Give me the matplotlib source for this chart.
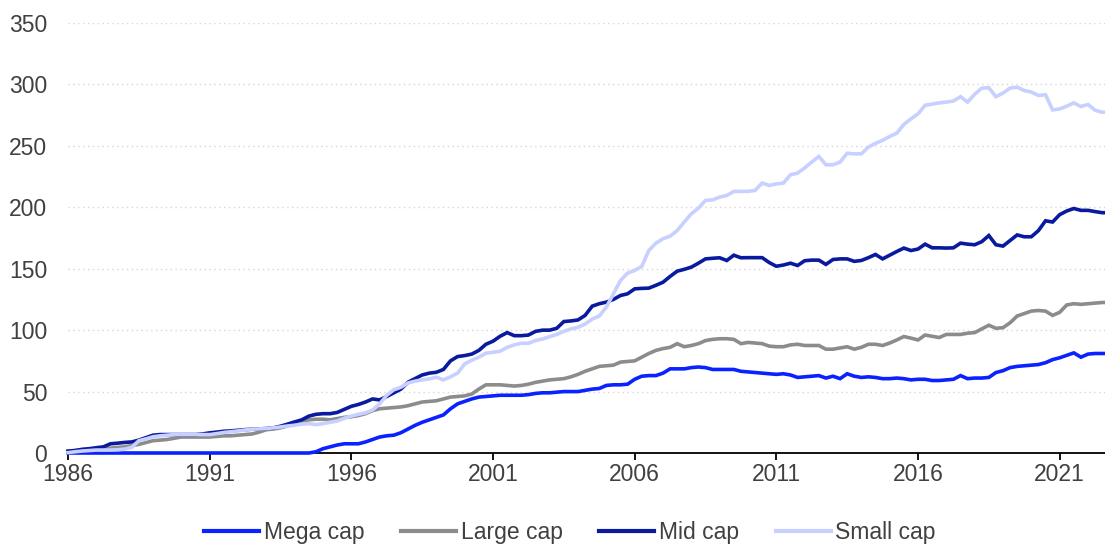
import numpy as np
import matplotlib
matplotlib.use("Agg")
import matplotlib.pyplot as plt

plt.rcParams['font.family'] = ['Liberation Sans', 'DejaVu Sans']

start_year = 1986
# quarterly values, 4 per year (1986 .. 2022)
mega_cap = [
    0, 0, 0, 0,  0, 0, 0, 0,  0, 0, 0, 0,  0, 0, 0, 0,  0, 0, 0, 0,
    0, 0, 0, 0,  0, 0, 0, 0,  0, 0, 0, 0,  0, 0, 0, 1,
    3.5, 5, 6.5, 7.5,  7.5, 7.5, 9, 11,  13, 14, 14.5, 16.5,  19.5, 22.5, 25, 27,
    29, 31, 36, 40,  42, 44, 45.5, 46,  46.5, 47, 47, 47,  47, 47.5, 48.5, 49,
    49, 49.5, 50, 50,  50, 51, 52, 52.5,  55, 55.5, 55.5, 56,  60, 62.5, 63, 63,
    65, 68.5, 68.5, 68.5,  69.5, 70, 69.5, 68,  68, 68, 68, 66.5,  66, 65.5, 65, 64.5,
    64, 64.5, 63.5, 61.5,  62, 62.5, 63, 61,  62.5, 60.5, 64.5, 62.5,  61.5, 62, 61.5, 60.5,
    60.5, 61, 60.5, 59.5,  60, 60, 59, 59,  59.5, 60, 63, 60.5,  61, 61, 61.5, 65.5,
    67, 69.5, 70.5, 71,  71.5, 72, 73.5, 76,  77.5, 79.5, 81.5, 78,  80.5, 81, 81, 81,
]
large_cap = [
    1.5, 2, 2.5, 3,  3, 3.5, 4, 4.5,  5, 6, 7, 8.5,  10, 10.5, 11, 12,  13, 13, 13, 13,
    13, 13.5, 14, 14,  14.5, 15, 15.5, 17,  19, 19.5, 20.5, 22,  24, 25.5, 27, 27.5,
    27.5, 27, 28, 29,  29.5, 30.5, 32, 34.5,  36, 36.5, 37, 37.5,  38.5, 40, 41.5, 42,
    42.5, 44, 45.5, 46,  46.5, 48, 52, 55.5,  55.5, 55.5, 55, 54.5,  55, 56, 57.5, 58.5,
    59.5, 60, 60.5, 62,  64, 66.5, 68.5, 70.5,  71, 71.5, 74, 74.5,  75, 78, 81, 83.5,
    85, 86, 89, 86.5,  87.5, 89, 91.5, 92.5,  93, 93, 92.5, 89,  90, 89.5, 89, 87,
    86.5, 86.5, 88, 88.5,  87.5, 87.5, 87.5, 84.5,  84.5, 85.5, 86.5, 84.5,  86, 88.5, 88.5, 87.5,
    89.5, 92, 94.8, 93.5,  92, 96, 95, 94,  96.5, 96.5, 96.5, 97.5,  98, 101, 104, 101.5,
    102, 106, 111.5, 113.5,  115.5, 116, 115.5, 112,  114.5, 120.5, 121.5, 121,  121.5, 122, 122.5, 122.5,
]
mid_cap = [
    1.5, 2, 3, 3.5,  4.3, 5, 7.5, 8,  8.6, 9, 10.5, 12.5,  14.5, 15, 15, 15,  15, 15, 15, 15.5,
    16.4, 17, 17.7, 18,  18.5, 19, 19.4, 19.6,  19.9, 20.5, 21.8, 23.5,  25.3, 27, 30, 31.5,
    32, 32, 33, 35.5,  38, 39.5, 41.5, 44,  43.2, 46, 49, 52,  57.6, 60.5, 63.5, 65,
    65.7, 68, 75, 78.5,  79.3, 80.5, 83.5, 88.5,  91, 95, 98, 95.5,  95.5, 96, 99, 100,
    100, 101.5, 107, 107.5,  108.3, 112, 119.5, 121.5,  122.8, 125, 128.2, 129.6,  133.6, 134, 134.2, 136.5,
    139, 143.7, 148, 149.5,  151.3, 154.5, 158, 158.5,  158.9, 156.7, 161, 158.9,  159, 159, 159, 155,
    152, 153, 154.5, 152.6,  156.5, 157, 157, 153.5,  157.5, 158, 158, 156,  156.7, 159, 161.6, 158,
    161, 164, 166.8, 164.8,  166, 170, 167, 167,  166.8, 167, 170.8, 170,  169.5, 172, 177, 169.5,
    168.4, 173, 177.5, 176,  176, 181, 189, 188,  194, 197, 199, 197.5,  197.5, 196.5, 195.6, 195.6,
]
small_cap = [
    0.3, 1, 1.6, 2,  2.4, 2.4, 2.4, 2.6,  3.2, 4.6, 10, 11.5,  13.2, 14, 14.5, 15,  15, 15, 15, 15,
    15, 15.8, 16.7, 17.3,  18, 18.7, 19.4, 19.6,  19.9, 20.5, 21.2, 22,  22.6, 23.5, 23.9, 23.1,
    23.9, 25, 26, 28.3,  30, 31.5, 32.7, 35,  40, 47, 51.5, 53.5,  57, 58.5, 59.5, 60.3,
    61.7, 59.5, 62, 65,  72.5, 75.5, 78, 81.2,  82, 82.8, 86, 88,  89.3, 89.3, 91.5, 92.8,
    94.7, 96.5, 99, 101,  102.3, 105, 109, 111.5,  118.7, 129.6, 140.4, 146.4,  148.6, 151.8, 164.9, 170.8,
    174.4, 176.5, 181, 188,  194.7, 199.3, 205.6, 206,  208.3, 209.6, 212.9, 212.9,  213, 213.7, 219.7, 217.8,
    219, 219.7, 226.5, 227.8,  232, 236.8, 241.4, 234.6,  234.6, 236.8, 244, 243.5,  243.5, 249, 252, 254.5,
    257.6, 260.3, 267.4, 272,  276, 283, 284, 285,  285.6, 286.5, 290, 285.6,  292, 297, 297.3, 290,
    293, 297, 297.8, 295,  293.8, 291, 291.6, 279.3,  280, 282.3, 285, 282,  283.7, 279, 277.4, 277.4,
]
series_names = ["Mega cap", "Large cap", "Mid cap", "Small cap"]
series_colors = ["#0A22FF", "#8C8C8C", "#0A1A9E", "#C8D0FF"]
x_ticks = [1986, 1991, 1996, 2001, 2006, 2011, 2016, 2021]
y_ticks = [0, 50, 100, 150, 200, 250, 300, 350]

n = len(mega_cap)
years = start_year + np.arange(n) * 0.25

fig = plt.figure(figsize=(11.05, 5.46), dpi=100)
ax = fig.add_axes([68 / 1105, (546 - 453) / 546, 1 - 68 / 1105, (453 - 23) / 546])

for vals, name, col in zip([mega_cap, large_cap, mid_cap, small_cap], series_names, series_colors):
    ax.plot(years, vals, color=col, lw=2.6, label=name, solid_joinstyle='miter', clip_on=False, zorder=3)

ax.set_xlim(1986, 2022.6)
ax.set_ylim(0, 350)
ax.set_xticks(x_ticks)
ax.set_xticklabels([str(t) for t in x_ticks])
ax.set_yticks(y_ticks)
ax.set_yticklabels([str(t) for t in y_ticks])

for s in ['top', 'right', 'left']:
    ax.spines[s].set_visible(False)
ax.spines['bottom'].set_color('#000000')
ax.spines['bottom'].set_linewidth(1.3)
ax.spines['bottom'].set_zorder(2)

ax.tick_params(axis='x', direction='out', length=5, width=1.3, color='#000000',
               labelsize=16.5, labelcolor='#404040', pad=2)
ax.tick_params(axis='y', length=0, labelsize=16.5, labelcolor='#404040', pad=15)

ax.yaxis.grid(True, linestyle=(0, (1, 2.5)), color='#D6D6D6', linewidth=1.0)
ax.set_axisbelow(True)

leg = fig.legend(loc='center', bbox_to_anchor=(570 / 1105, 1 - 533 / 546), ncol=4, frameon=False,
                 fontsize=16.5, handlelength=2.4, handletextpad=0.2, columnspacing=1.6,
                 labelcolor='#404040')
for line in leg.get_lines():
    line.set_linewidth(3)

fig.savefig("out.png", dpi=100)
